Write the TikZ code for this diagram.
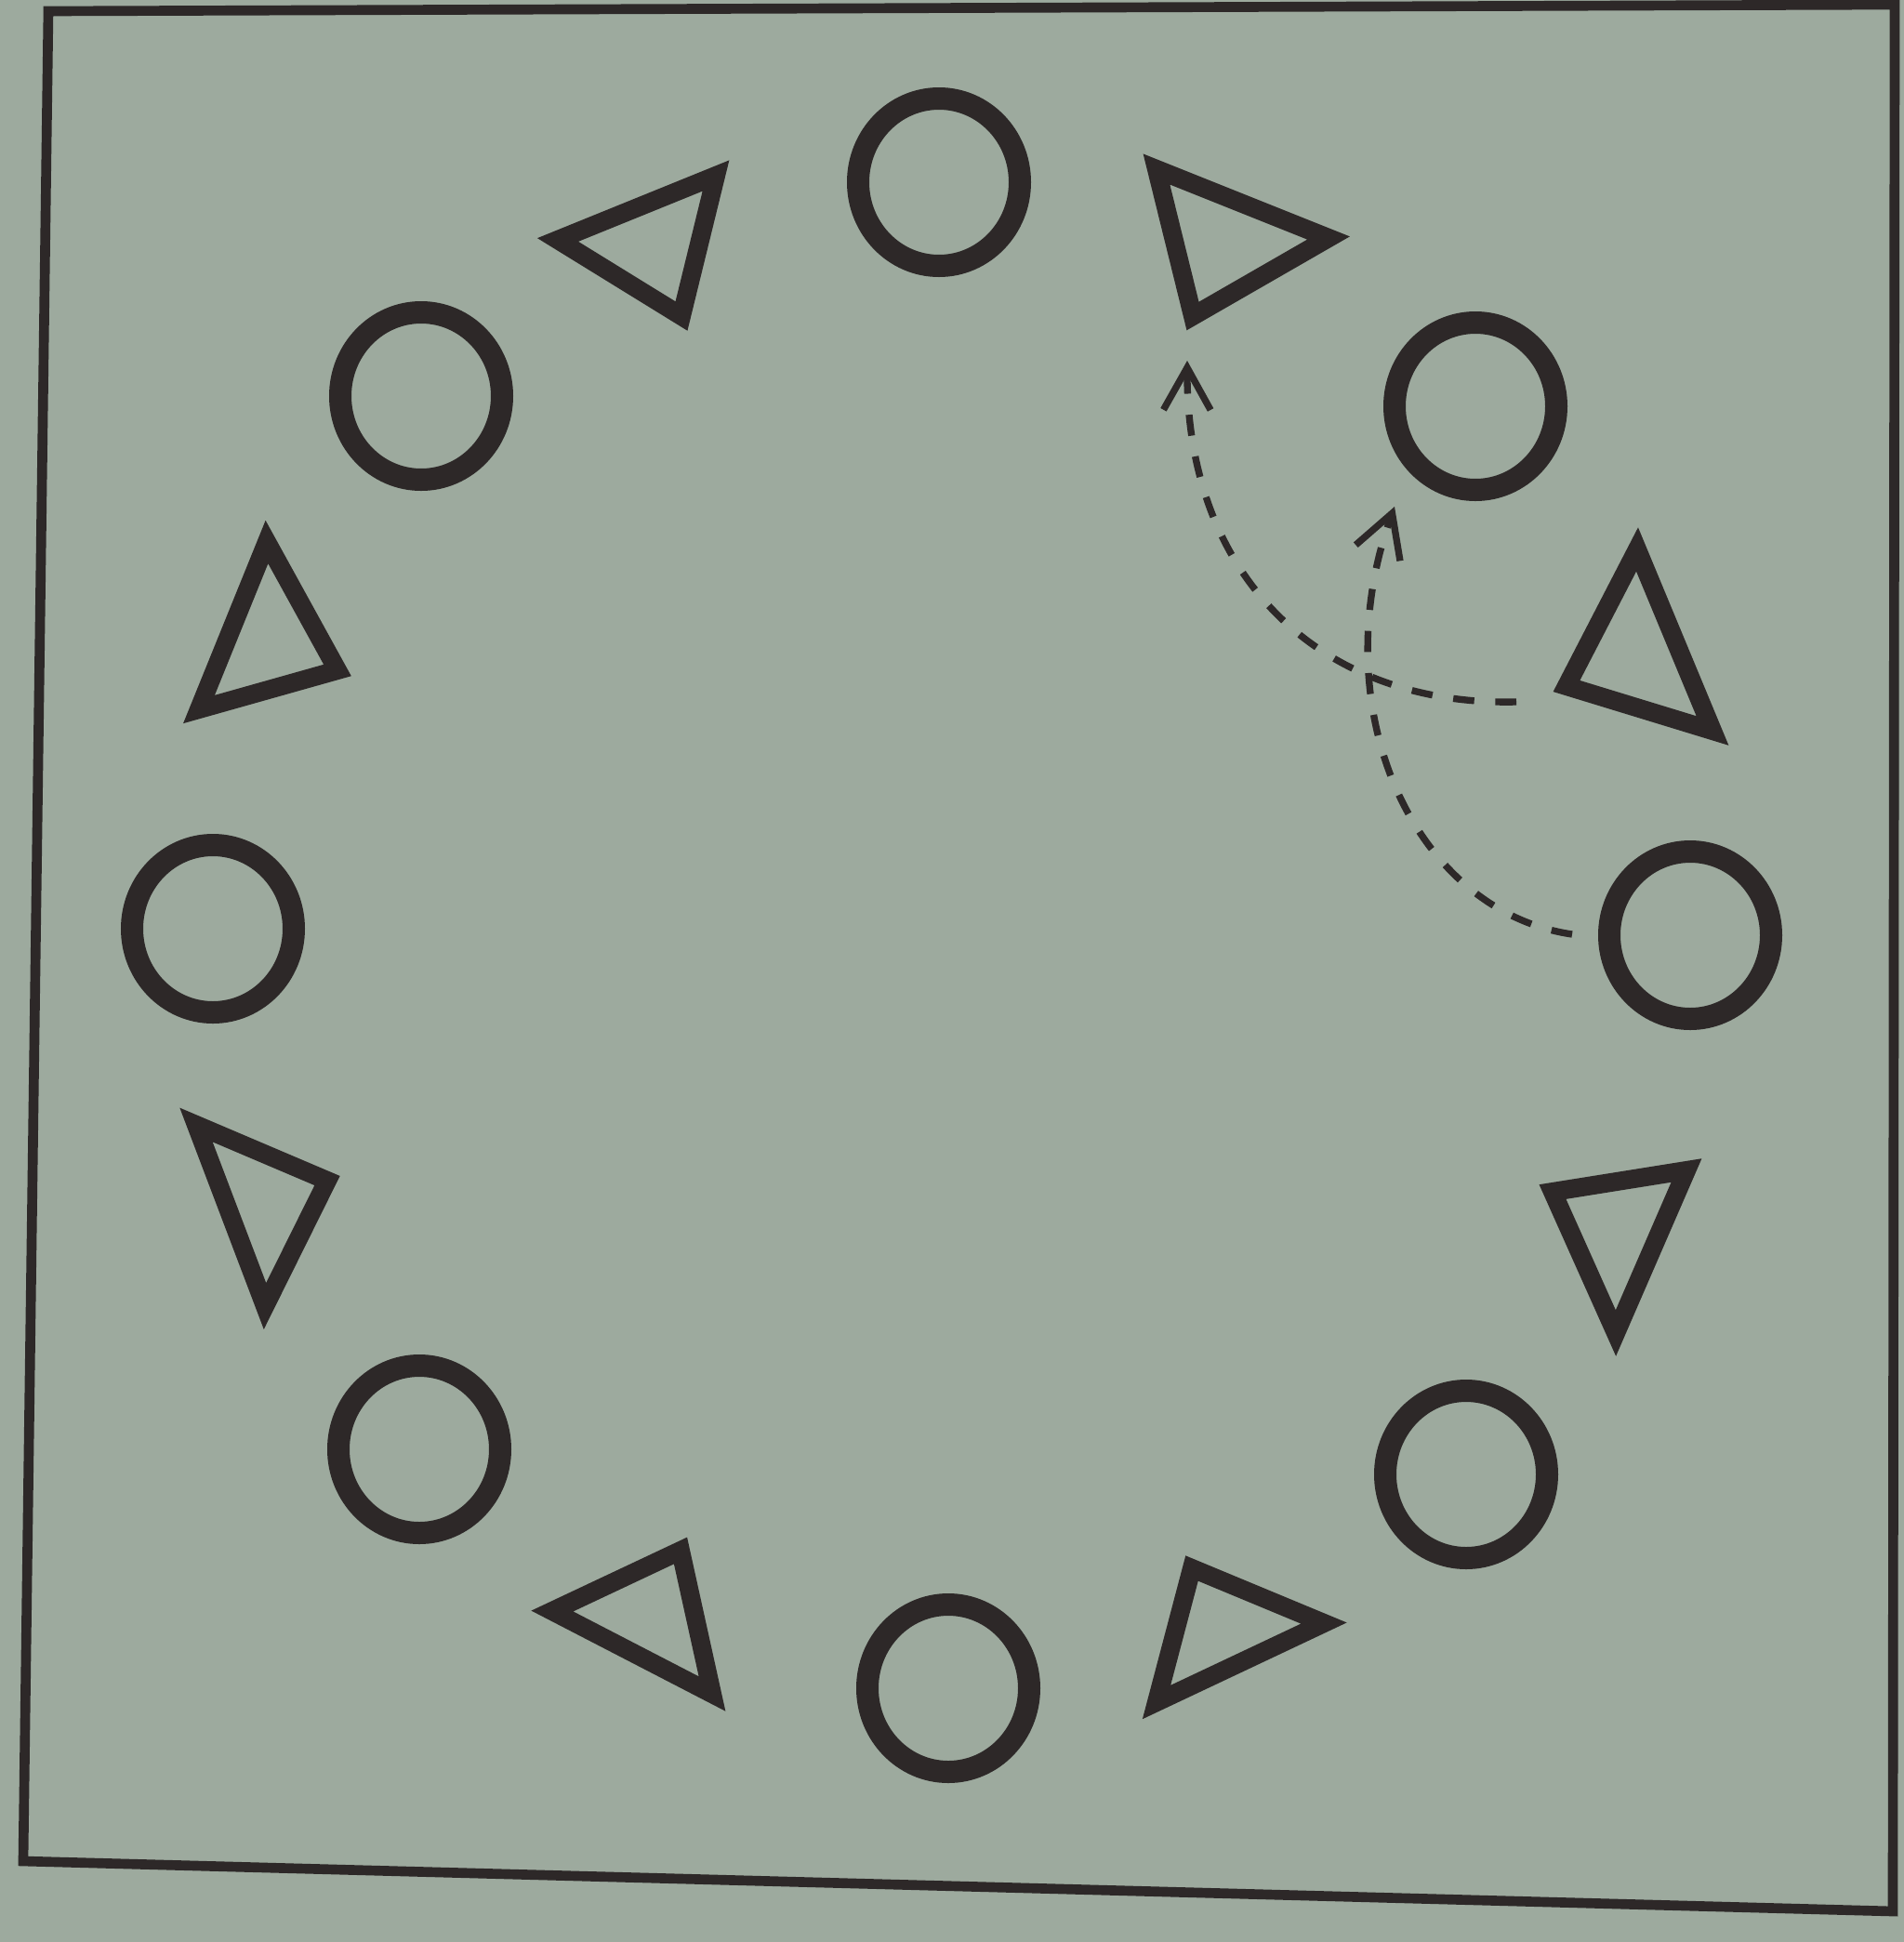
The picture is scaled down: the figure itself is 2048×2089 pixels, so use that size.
\documentclass[tikz,border=0pt]{standalone}
\usetikzlibrary{arrows.meta}
\definecolor{paper}{RGB}{157,170,158}
\definecolor{ink}{RGB}{45,40,40}

\begin{document}
\begin{tikzpicture}[x=0.75pt,y=0.75pt,yscale=-1,xscale=1,
  ring/.style={draw=ink, line width=18pt},
  tri/.style={draw=ink, line width=15pt, line join=miter},
  move/.style={draw=ink, line width=5.5pt, dash pattern=on 17pt off 17pt,
    -{Straight Barb[length=34pt,width=38pt]}}]
%set diagram left start at 0, and has height of 2089
\useasboundingbox (0,0) rectangle (2048,2089);
\fill[paper] (0,0) rectangle (2048,2089);

%Shape: Frame
\draw [draw=ink, line width=8pt] (52,12) -- (2038,5) -- (2036,2056) -- (25,2002) -- cycle ;

%Shape: Circle (top)
\draw [ring] (1010,196) ellipse [x radius=87, y radius=90] ;
%Shape: Circle (top right)
\draw [ring] (1587,437) ellipse [x radius=87, y radius=90] ;
%Shape: Circle (right)
\draw [ring] (1818,1006) ellipse [x radius=87, y radius=90] ;
%Shape: Circle (bottom right)
\draw [ring] (1577,1586) ellipse [x radius=87, y radius=90] ;
%Shape: Circle (bottom)
\draw [ring] (1020,1816) ellipse [x radius=87, y radius=90] ;
%Shape: Circle (bottom left)
\draw [ring] (451,1559) ellipse [x radius=87, y radius=90] ;
%Shape: Circle (left)
\draw [ring] (229,999) ellipse [x radius=87, y radius=90] ;
%Shape: Circle (top left)
\draw [ring] (453,426) ellipse [x radius=87, y radius=90] ;

%Shape: Triangle (top left)
\draw [tri] (600,258) -- (770,189) -- (733,340) -- cycle ;
%Shape: Triangle (top right)
\draw [tri] (1244,182) -- (1429,256) -- (1283,340) -- cycle ;
%Shape: Triangle (right, upper)
\draw [tri] (1761,591) -- (1842,786) -- (1685,738) -- cycle ;
%Shape: Triangle (right, lower)
\draw [tri] (1670,1282) -- (1814,1259) -- (1738,1434) -- cycle ;
%Shape: Triangle (bottom right)
\draw [tri] (1282,1687) -- (1424,1746) -- (1244,1831) -- cycle ;
%Shape: Triangle (bottom left)
\draw [tri] (594,1733) -- (732,1668) -- (766,1822) -- cycle ;
%Shape: Triangle (left, lower)
\draw [tri] (211,1210) -- (352,1270) -- (285,1405) -- cycle ;
%Shape: Triangle (left, upper)
\draw [tri] (287,583) -- (363,721) -- (214,763) -- cycle ;

% Arrow ends
\coordinate (triStart) at (1631,755) ;
\coordinate (triEnd) at (1277,388) ;
\coordinate (ringStart) at (1691,1005) ;
\coordinate (ringEnd) at (1500,545) ;

%Curve Lines
\draw [move] (triStart) .. controls (1420,760) and (1276,620) .. (triEnd) ;
%Curve Lines
\draw [move] (ringStart) .. controls (1520,980) and (1422,762) .. (ringEnd) ;

\end{tikzpicture}
\end{document}
